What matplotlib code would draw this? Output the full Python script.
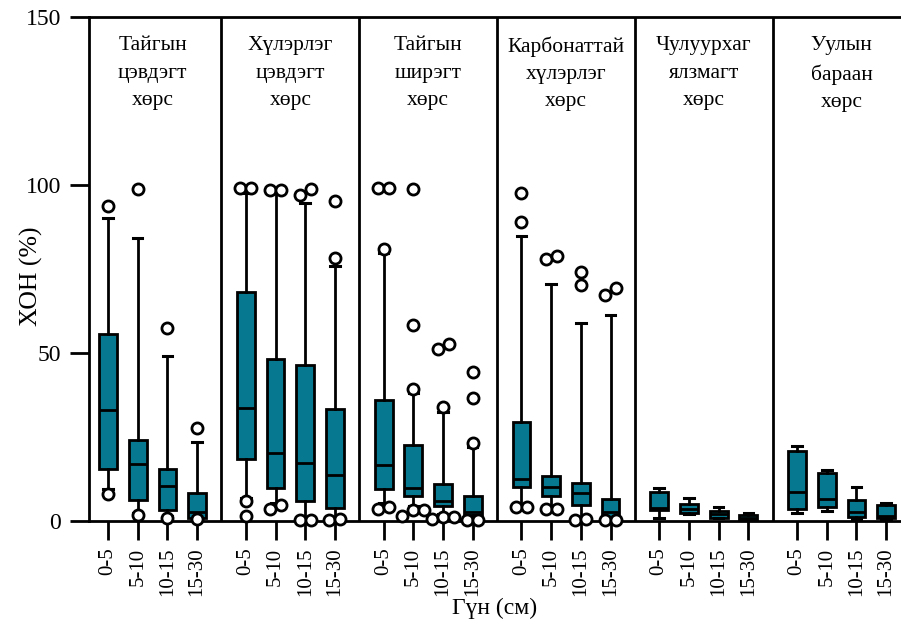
import matplotlib
matplotlib.use("Agg")
import matplotlib.pyplot as plt
import numpy as np

plt.rcParams["font.family"] = ["Liberation Serif", "DejaVu Serif"]

# Soil types (panel titles) and sampling depths
soils = ["Тайгын\nцэвдэгт\nхөрс", "Хүлэрлэг\nцэвдэгт\nхөрс", "Тайгын\nширэгт\nхөрс",
         "Карбонаттай\nхүлэрлэг\nхөрс", "Чулуурхаг\nялзмагт\nхөрс", "Уулын\nбараан\nхөрс"]
depths = ["0-5", "5-10", "10-15", "15-30"]

# Box statistics for each soil type, one value per depth (%)
whishi = [[90.3, 84.1, 49.1, 23.6],
          [97.5, 97.5, 94.7, 75.9],
          [79.7, 38.0, 32.5, 22.0],
          [84.9, 70.4, 58.8, 61.3],
          [9.7, 7.0, 4.3, 2.3],
          [22.3, 15.2, 10.2, 5.5]]
q3 = [[55.6, 24.1, 15.5, 8.2],
      [68.2, 48.1, 46.4, 33.3],
      [36.0, 22.6, 11.0, 7.5],
      [29.6, 13.4, 11.4, 6.7],
      [8.7, 5.1, 3.1, 1.9],
      [20.9, 14.4, 6.4, 4.7]]
med = [[33.0, 17.0, 10.4, 2.8],
       [33.7, 20.3, 17.2, 13.6],
       [16.7, 9.7, 6.0, 2.8],
       [12.4, 10.0, 8.2, 2.6],
       [3.8, 3.6, 2.0, 1.0],
       [8.5, 6.7, 2.8, 1.5]]
q1 = [[15.5, 6.3, 3.3, 1.0],
      [18.5, 9.7, 6.0, 3.8],
      [9.4, 7.4, 4.6, 1.8],
      [10.2, 7.4, 4.8, 1.2],
      [3.3, 2.3, 1.0, 0.3],
      [3.5, 4.1, 1.3, 0.8]]
whislo = [[9.5, 2.5, 1.5, 0.8],
          [7.0, 5.5, 1.0, 0.8],
          [5.5, 4.5, 2.0, 1.0],
          [5.0, 4.5, 1.0, 0.6],
          [1.0, 2.0, 0.8, 0.2],
          [2.3, 3.0, 0.5, 0.3]]
outliers = [[[93.8, 8.0], [98.7, 1.8], [57.3, 1.0], [27.6, 0.5]],
            [[99.0, 99.0, 6.0, 1.6], [98.4, 98.4, 4.7, 3.5], [98.7, 97.0, 0.3, 0.3], [95.2, 78.4, 0.2, 0.6]],
            [[99.2, 99.2, 81.0, 3.5, 4.1], [98.7, 58.3, 39.4, 1.5, 3.3, 3.3], [52.7, 51.1, 33.9, 0.7, 1.3, 1.3], [44.2, 36.7, 23.3, 0.3, 0.3]],
            [[97.7, 88.9, 4.1, 4.1], [78.9, 77.9, 3.5, 3.5], [74.2, 70.2, 0.2, 0.6], [69.3, 67.3, 0.3, 0.3]],
            [[], [], [], []],
            [[], [], [], []]]

BOX_COLOR = "#06788f"
GROUP_STEP = 4.64      # distance between first boxes of neighbouring soil groups
n_depth = len(depths)

fig = plt.figure(figsize=(9.01, 6.27), dpi=100)
ax = fig.add_axes([0.0988, 0.169, 0.9012, 0.804])

stats, positions = [], []
for g in range(len(soils)):
    for i in range(n_depth):
        stats.append(dict(med=med[g][i], q1=q1[g][i], q3=q3[g][i],
                          whislo=whislo[g][i], whishi=whishi[g][i], fliers=[]))
        positions.append(g * GROUP_STEP + i)

ax.bxp(stats, positions=positions, widths=0.6, patch_artist=True, showfliers=False,
       boxprops=dict(facecolor=BOX_COLOR, edgecolor="black", linewidth=2.0),
       medianprops=dict(color="black", linewidth=2.0),
       whiskerprops=dict(color="black", linewidth=2.0),
       capprops=dict(color="black", linewidth=2.2), capwidths=0.32)


def dodge(values, gap=3.2, step=0.37):
    """Spread outliers sideways when their circles would overlap."""
    clusters = []
    for v in sorted(values):
        if clusters and v - clusters[-1][-1] < gap:
            clusters[-1].append(v)
        else:
            clusters.append([v])
    out_v, out_o = [], []
    for c in clusters:
        n = len(c)
        for k, v in enumerate(c):
            out_v.append(v)
            out_o.append((k - (n - 1) / 2) * step)
    return out_v, out_o


for g in range(len(soils)):
    for i in range(n_depth):
        vals, offs = dodge(outliers[g][i])
        if vals:
            x = g * GROUP_STEP + i + np.array(offs)
            ax.plot(x, vals, "o", ms=8, mfc="white", mec="black", mew=2.0, zorder=4,
                    clip_on=False)

# Panel separators and titles
for g in range(len(soils)):
    if g < len(soils) - 1:
        ax.axvline(g * GROUP_STEP + 3 + (GROUP_STEP - 3) / 2, color="black", lw=2.0)
    ax.text(g * GROUP_STEP + 1.5, 144.2, soils[g], ha="center", va="top",
            fontsize=15.5, linespacing=1.58)

ax.set_xlim(-0.64, 26.7)
ax.set_ylim(0, 150)
ax.set_yticks([0, 50, 100, 150])
ax.set_xticks(positions)
ax.set_xticklabels(depths * len(soils), rotation=90)
ax.tick_params(axis="both", length=14, width=2.0, labelsize=15, pad=5)
ax.tick_params(axis="y", labelsize=17, pad=6)
for side in ("left", "bottom", "top"):
    ax.spines[side].set_linewidth(2.0)
ax.spines["right"].set_visible(False)

fig.text(31 / 901, 1 - 276 / 627, "ХОН (%)", rotation=90, ha="center", va="center",
         fontsize=18.5)
fig.text(495 / 901, 1 - 608 / 627, "Гүн (см)", ha="center", va="center", fontsize=17)

fig.savefig("out.png", dpi=100)
